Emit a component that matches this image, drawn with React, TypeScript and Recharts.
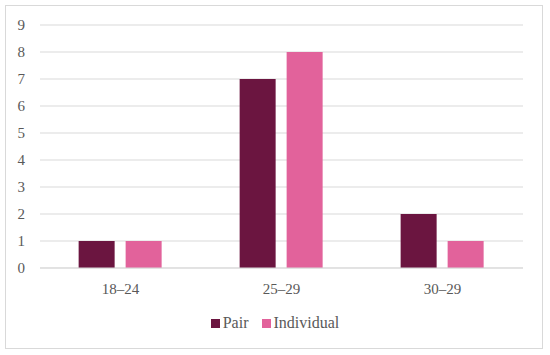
import { Bar, BarChart, CartesianGrid, XAxis, YAxis } from "recharts";

const categories = ["18–24", "25–29", "30–29"];
const pairValues = [1, 7, 2];
const individualValues = [1, 8, 1];
const yTicks = [0, 1, 2, 3, 4, 5, 6, 7, 8, 9];

const series = [
  { key: "pair", name: "Pair", color: "#6B1540" },
  { key: "individual", name: "Individual", color: "#E2629B" },
];

const data = categories.map((label, i) => ({
  label,
  pair: pairValues[i],
  individual: individualValues[i],
}));

const font = "'Times New Roman', 'Liberation Serif', 'DejaVu Serif', serif";
const textColor = "#595959";

export default function App() {
  return (
    <div style={{ position: "absolute", left: 0, top: 0, width: 550, height: 355, background: "#fff", fontFamily: font }}>
      <div
        style={{
          position: "absolute",
          left: 5,
          top: 5,
          width: 536,
          height: 342,
          border: "1px solid #d9d9d9",
        }}
      />
      <div style={{ position: "absolute", left: 0, top: 0 }}>
        <BarChart
          width={550}
          height={355}
          data={data}
          margin={{ top: 25, right: 27, left: 0, bottom: 57 }}
          barCategoryGap="24%"
          barGap={11}
          style={{ fontFamily: font }}
        >
          <CartesianGrid vertical={false} stroke="#d9d9d9" strokeWidth={1} />
          <XAxis
            dataKey="label"
            height={30}
            axisLine={{ stroke: "#d9d9d9" }}
            tickLine={false}
            tickSize={0}
            tickMargin={15}
            tick={{ fontSize: 15, fill: textColor, fontFamily: font }}
          />
          <YAxis
            width={40}
            domain={[0, 9]}
            ticks={yTicks}
            interval={0}
            axisLine={false}
            tickLine={false}
            tickSize={0}
            tickMargin={15}
            tick={{ fontSize: 15, fill: textColor, fontFamily: font }}
          />
          {series.map((s) => (
            <Bar key={s.key} dataKey={s.key} name={s.name} fill={s.color} isAnimationActive={false} />
          ))}
        </BarChart>
      </div>
      <div
        style={{
          position: "absolute",
          left: 0,
          top: 314,
          width: 550,
          display: "flex",
          justifyContent: "center",
          gap: 13,
          fontSize: 16,
          color: textColor,
          lineHeight: "18px",
        }}
      >
        {series.map((s) => (
          <div key={s.key} style={{ display: "flex", alignItems: "center" }}>
            <span style={{ display: "inline-block", width: 9, height: 9, background: s.color, marginRight: 3 }} />
            <span>{s.name}</span>
          </div>
        ))}
      </div>
    </div>
  );
}
